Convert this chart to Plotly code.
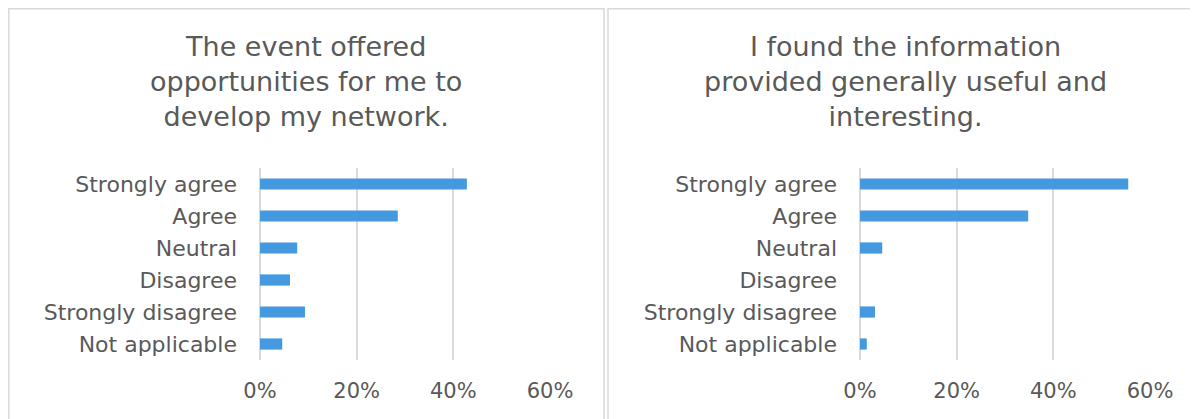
import plotly.graph_objects as go

categories = ["Strongly agree", "Agree", "Neutral", "Disagree", "Strongly disagree", "Not applicable"]
network_pct = [0.428, 0.285, 0.077, 0.062, 0.093, 0.046]
useful_pct = [0.555, 0.348, 0.046, 0.0, 0.031, 0.014]
titles = ["The event offered<br>opportunities for me to<br>develop my network.",
          "I found the information<br>provided generally useful and<br>interesting."]
tick_vals = [0, 0.2, 0.4, 0.6]
tick_text = ["0%", "20%", "40%", "60%"]

W, H = 1198, 419
FONT = "DejaVu Sans"
TXT = "#595959"
GRID = "#d9d9d9"
BAR = "#4499df"

fig = go.Figure()
fig.add_trace(go.Bar(x=network_pct, y=categories, orientation="h", marker=dict(color=BAR, line=dict(width=0)),
                     width=0.35, xaxis="x", yaxis="y", showlegend=False))
fig.add_trace(go.Bar(x=useful_pct, y=categories, orientation="h", marker=dict(color=BAR, line=dict(width=0)),
                     width=0.35, xaxis="x2", yaxis="y2", showlegend=False))

ydom = [1 - 352 / H, 1 - 160 / H]
common_x = dict(range=[0, 0.6], tickvals=tick_vals, ticktext=tick_text, showgrid=True, gridcolor=GRID, gridwidth=1.5,
                zeroline=True, zerolinecolor=GRID, zerolinewidth=1.5, showline=False, ticks="",
                tickfont=dict(family=FONT, size=21, color=TXT),
                ticklabelstandoff=16, fixedrange=True, automargin=False)
common_y = dict(categoryorder="array", categoryarray=categories, autorange="reversed", showgrid=False, zeroline=False,
                showline=False, ticks="", tickfont=dict(family=FONT, size=22, color=TXT), ticklabelstandoff=22,
                domain=ydom, fixedrange=True, automargin=False)

fig.update_layout(
    width=W, height=H, margin=dict(l=0, r=0, t=0, b=0, autoexpand=False),
    paper_bgcolor="white", plot_bgcolor="white",
    xaxis=dict(domain=[252 / W, 542 / W], anchor="y", **common_x),
    yaxis=dict(anchor="x", **common_y),
    xaxis2=dict(domain=[852 / W, 1142 / W], anchor="y2", **common_x),
    yaxis2=dict(anchor="x2", **common_y),
)

fig.add_shape(type="rect", xref="paper", yref="paper", x0=0.8 / W, x1=596 / W, y0=-0.05, y1=1 - 0.8 / H,
              line=dict(color=GRID, width=1.5), fillcolor="rgba(0,0,0,0)", layer="below")
fig.add_shape(type="rect", xref="paper", yref="paper", x0=600 / W, x1=1.05, y0=-0.05, y1=1 - 0.8 / H,
              line=dict(color=GRID, width=1.5), fillcolor="rgba(0,0,0,0)", layer="below")

for cx, t in zip([297.5 / W, 897 / W], titles):
    fig.add_annotation(x=cx, y=1 - 21 / H, xref="paper", yref="paper", text=t, showarrow=False,
                       xanchor="center", yanchor="top", align="center",
                       font=dict(family=FONT, size=27, color=TXT))

fig.write_html("out.html")
